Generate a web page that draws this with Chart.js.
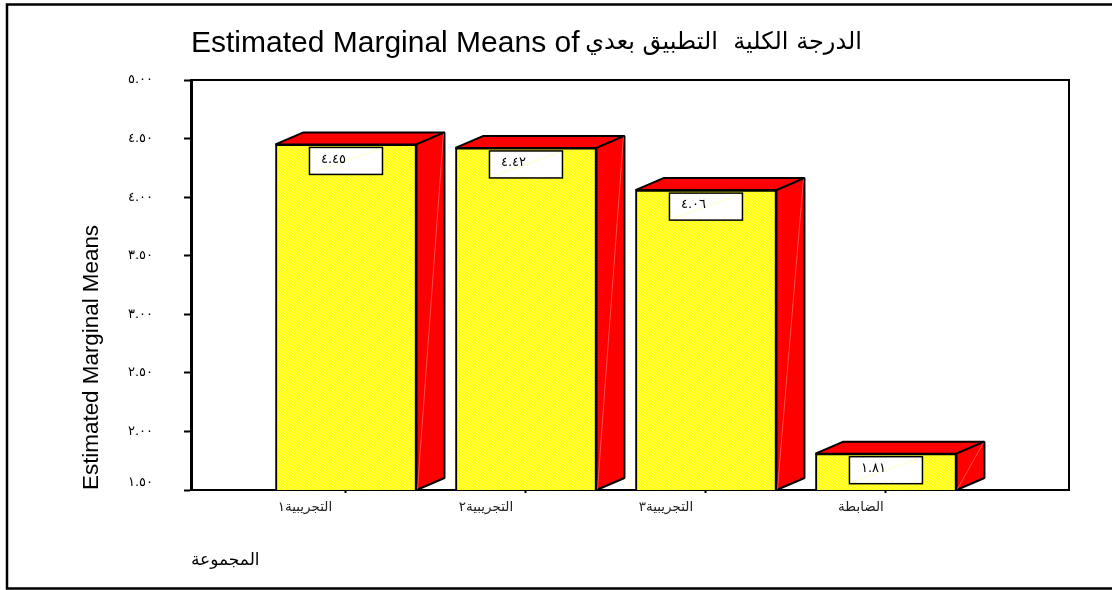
<!DOCTYPE html>
<html>
<head>
<meta charset="utf-8">
<style>
  html, body { margin: 0; padding: 0; background: #fff; }
  #wrap { position: relative; width: 1112px; height: 590px; }
</style>
<script src="https://cdn.jsdelivr.net/npm/chart.js@4"></script>
</head>
<body>
<div id="wrap"><canvas id="chart" width="1112" height="590"></canvas></div>
<script>
const categories = ["التجريبية١", "التجريبية٢", "التجريبية٣", "الضابطة"];
const positions = [1, 2, 3, 4];
const means = [4.45, 4.42, 4.06, 1.81];
const meanLabels = ["٤.٤٥", "٤.٤٢", "٤.٠٦", "١.٨١"];
const yTickLabels = { "1.5": "١.٥٠", "2": "٢.٠٠", "2.5": "٢.٥٠", "3": "٣.٠٠", "3.5": "٣.٥٠", "4": "٤.٠٠", "4.5": "٤.٥٠", "5": "٥.٠٠" };
const titleLatin = "Estimated Marginal Means of";
const titleArabic = "الدرجة الكلية  التطبيق بعدي";
const yTitle = "Estimated Marginal Means";
const xTitle = "المجموعة";

const depthX = 28, depthY = 12;
// the x labels sit left of their ticks, by a different amount each
const xLabelShift = [-41, -40, -40, -25];

// fine yellow hatch for the bar fronts
function hatch() {
  const c = document.createElement("canvas");
  c.width = c.height = 3;
  const g = c.getContext("2d");
  g.fillStyle = "#ffff00";
  g.fillRect(0, 0, 3, 3);
  g.fillStyle = "#ffff66";
  [[2, 0], [1, 1], [0, 2]].forEach(([x, y]) => g.fillRect(x, y, 1, 1));
  return g.createPattern(c, "repeat");
}

// the picture frame has no right side
const frame = {
  id: "frame",
  beforeDraw(chart) {
    const { ctx } = chart;
    ctx.save();
    ctx.fillStyle = "#fff";
    ctx.fillRect(0, 0, chart.width, chart.height);
    ctx.strokeStyle = "#000";
    ctx.lineWidth = 2.5;
    ctx.beginPath();
    ctx.moveTo(chart.width, 4.5);
    ctx.lineTo(7, 4.5);
    ctx.lineTo(7, 588.5);
    ctx.lineTo(chart.width, 588.5);
    ctx.stroke();
    ctx.restore();
    chart.scales.x.getLabelItems().forEach((item, i) => {
      item.options.translation[0] += xLabelShift[i];
    });
  },
};

// top and right edge of the plot box, and the arabic half of the title
const plotBox = {
  id: "plotBox",
  beforeDatasetsDraw(chart) {
    const { ctx, chartArea } = chart;
    ctx.save();
    ctx.strokeStyle = "#000";
    ctx.lineWidth = 2;
    ctx.beginPath();
    ctx.moveTo(chartArea.left, chartArea.top);
    ctx.lineTo(chartArea.right, chartArea.top);
    ctx.lineTo(chartArea.right, chartArea.bottom);
    ctx.stroke();
    ctx.font = "24px 'DejaVu Sans'";
    ctx.fillStyle = "#000";
    ctx.textAlign = "right";
    ctx.textBaseline = "middle";
    ctx.fillText(titleArabic, 862, 43);
    ctx.restore();
  },
};

// red side and top faces behind each bar
const depthFaces = {
  id: "depthFaces",
  afterDatasetsDraw(chart) {
    const { ctx } = chart;
    const b = chart.scales.y.bottom;
    ctx.save();
    ctx.fillStyle = "#ff0000";
    ctx.strokeStyle = "#000";
    ctx.lineWidth = 2;
    ctx.lineJoin = "bevel";
    chart.getDatasetMeta(0).data.forEach((bar) => {
      const w = bar.width / 2;
      const l = bar.x - w, r = bar.x + w, t = bar.y;
      ctx.beginPath();
      ctx.moveTo(l, t);
      ctx.lineTo(l + depthX, t - depthY);
      ctx.lineTo(r + depthX, t - depthY);
      ctx.lineTo(r, t);
      ctx.closePath();
      ctx.fill();
      ctx.stroke();
      ctx.beginPath();
      ctx.moveTo(r, t);
      ctx.lineTo(r + depthX, t - depthY);
      ctx.lineTo(r + depthX, b - depthY);
      ctx.lineTo(r, b);
      ctx.closePath();
      ctx.fill();
      ctx.stroke();
      // faint seam across the side face
      ctx.save();
      ctx.strokeStyle = "#ff8080";
      ctx.lineWidth = 0.6;
      ctx.beginPath();
      ctx.moveTo(r + 1, b - 1);
      ctx.lineTo(r + depthX - 1, t - depthY + 1);
      ctx.stroke();
      ctx.restore();
    });
    ctx.restore();
  },
};

// white value boxes on the bar fronts
const valueBoxes = {
  id: "valueBoxes",
  afterDatasetsDraw(chart) {
    const { ctx } = chart;
    ctx.save();
    ctx.font = "13px 'DejaVu Sans'";
    ctx.textBaseline = "middle";
    ctx.textAlign = "center";
    chart.getDatasetMeta(0).data.forEach((bar, i) => {
      const x = bar.x - 36.5, y = bar.y + 3;
      ctx.fillStyle = "#fff";
      ctx.fillRect(x, y, 73, 27);
      ctx.strokeStyle = "#ffffa0";
      ctx.lineWidth = 0.6;
      ctx.beginPath();
      ctx.moveTo(x + 2, y + 26);
      ctx.lineTo(x + 71, y + 1);
      ctx.stroke();
      ctx.strokeStyle = "#000";
      ctx.lineWidth = 1.5;
      ctx.strokeRect(x, y, 73, 27);
      ctx.fillStyle = "#000";
      ctx.fillText(meanLabels[i], x + 24, y + 12);
    });
    ctx.restore();
  },
};

new Chart(document.getElementById("chart"), {
  type: "bar",
  data: {
    labels: positions,
    datasets: [{
      data: means,
      backgroundColor: hatch(),
      borderColor: "#000",
      borderWidth: 2,
      barThickness: 141,
    }],
  },
  plugins: [frame, plotBox, depthFaces, valueBoxes],
  options: {
    responsive: false,
    animation: false,
    layout: { padding: { left: 0, right: 43, top: 0, bottom: 0 } },
    plugins: {
      legend: { display: false },
      tooltip: { enabled: false },
      title: {
        display: true,
        text: titleLatin,
        align: "start",
        fullSize: false,
        color: "#000",
        font: { family: "'Liberation Sans'", size: 30, weight: "normal" },
        padding: { top: 26, bottom: 18 },
      },
    },
    scales: {
      x: {
        type: "linear",
        offset: false,
        min: 0.139,
        max: 5.017,
        afterBuildTicks(axis) { axis.ticks = positions.map((v) => ({ value: v })); },
        afterFit(axis) { axis.height = 100; },
        grid: { offset: false, drawOnChartArea: false, tickLength: 3, tickColor: "#000", tickWidth: 2 },
        border: { display: true, color: "#000", width: 2 },
        ticks: {
          autoSkip: false,
          maxRotation: 0,
          padding: 6,
          color: "#222",
          font: { family: "'DejaVu Sans'", size: 13.5 },
          callback: (v) => categories[positions.indexOf(v)],
        },
        title: {
          display: true,
          text: xTitle,
          align: "start",
          color: "#000",
          font: { family: "'DejaVu Sans'", size: 17 },
          padding: { top: 20, bottom: 19 },
        },
      },
      y: {
        min: 1.5,
        max: 5,
        afterFit(axis) { axis.width = 191; },
        ticks: {
          stepSize: 0.5,
          padding: 31,
          color: "#000",
          font: { family: "'DejaVu Sans'", size: 13 },
          callback: (v) => (v === 1.5 ? [yTickLabels[v], ""] : yTickLabels[v]),
        },
        grid: { drawOnChartArea: false, tickLength: 7, tickColor: "#000", tickWidth: 2 },
        border: { display: true, color: "#000", width: 3 },
        title: {
          display: true,
          text: yTitle,
          align: "start",
          color: "#000",
          font: { family: "'Liberation Sans'", size: 22.4 },
          padding: { top: 78, bottom: 20 },
        },
      },
    },
  },
});
</script>
</body>
</html>
